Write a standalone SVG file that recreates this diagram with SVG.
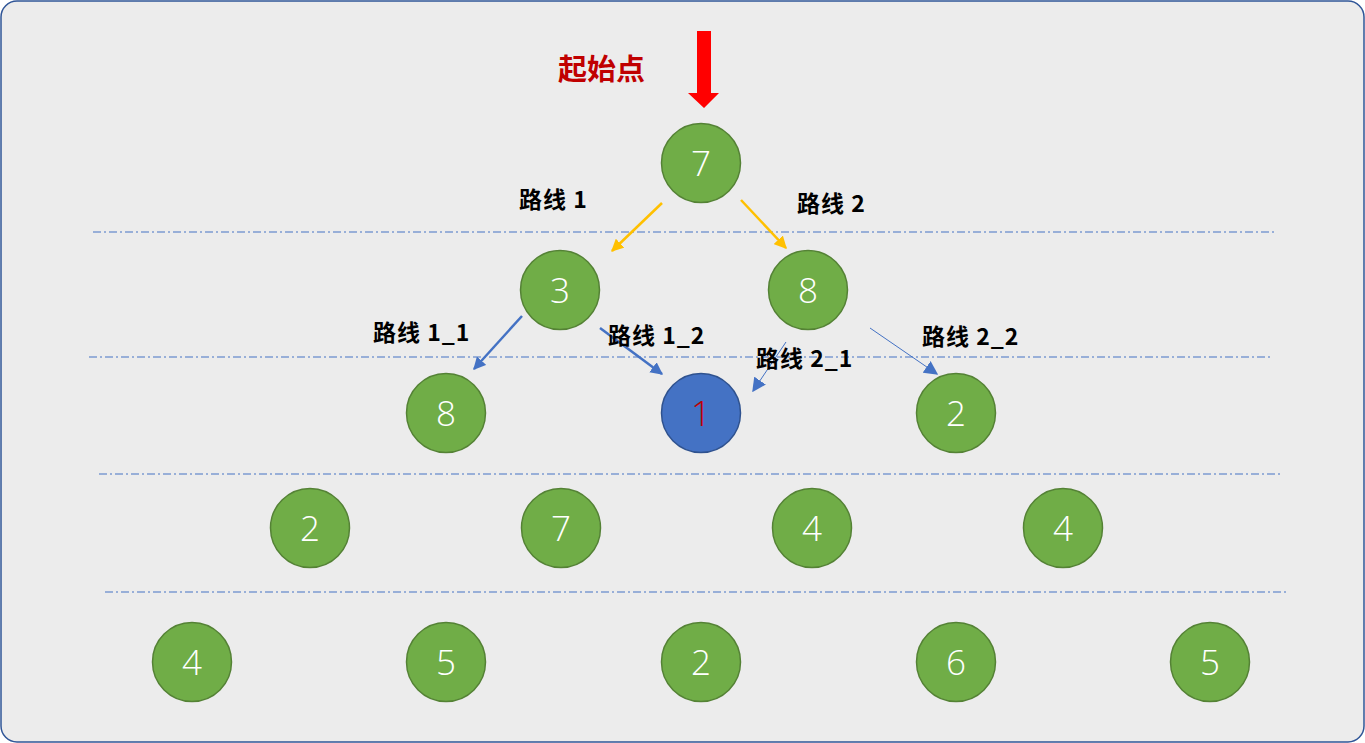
<svg xmlns="http://www.w3.org/2000/svg" width="1365" height="743" viewBox="0 0 1365 743">
<style>
.node circle{fill:#70ad47;stroke:#548235;stroke-width:1.5}
.node text{fill:#ffffff;font-family:"Segoe UI","Open Sans","Noto Sans",sans-serif;font-weight:300;font-size:35px;text-anchor:middle}
.node.blue circle{fill:#4472c4;stroke:#2f528f}
.node.blue text{fill:#c00000}
.sep{stroke:#4472c4;stroke-width:1.2;stroke-dasharray:8 3 2 3;fill:none}
.lbl{font-family:"Noto Sans CJK SC","Noto Sans",sans-serif;font-weight:bold;font-size:23px;letter-spacing:1px;fill:#000}
.y{stroke:#ffc000;stroke-width:2.5;fill:none}
.b{stroke:#4472c4;stroke-width:2.5;fill:none}
.bt{stroke:#4472c4;stroke-width:1;fill:none}
</style>
<defs>
<marker id="ay" viewBox="0 0 10 10" refX="9" refY="5" markerWidth="5" markerHeight="5" markerUnits="strokeWidth" orient="auto"><path d="M0,0 L10,5 L0,10 z" fill="#ffc000"/></marker>
<marker id="ab" viewBox="0 0 10 10" refX="9" refY="5" markerWidth="5" markerHeight="5" markerUnits="strokeWidth" orient="auto"><path d="M0,0 L10,5 L0,10 z" fill="#4472c4"/></marker>
<marker id="abt" viewBox="0 0 10 10" refX="9" refY="5" markerWidth="14" markerHeight="14" markerUnits="strokeWidth" orient="auto"><path d="M0,0 L10,5 L0,10 z" fill="#4472c4"/></marker>
</defs>
<rect x="1" y="1" width="1363" height="741" rx="16" ry="16" fill="#ececec" stroke="#2f5597" stroke-width="1.5"/>
<g id="separators">
<line class="sep" x1="93" y1="232" x2="1277" y2="232"/>
<line class="sep" x1="89" y1="357" x2="1272" y2="357"/>
<line class="sep" x1="99" y1="474" x2="1282" y2="474"/>
<line class="sep" x1="105" y1="592" x2="1288" y2="592"/>
</g>
<g id="start">
<path d="M697,31 L711,31 L711,93 L719,93 L704,108 L688,93 L697,93 z" fill="#ff0000"/>
<text x="558" y="80" font-family="Noto Sans CJK SC,sans-serif" font-weight="bold" font-size="29" fill="#c00000">起始点</text>
</g>
<g id="connectors">
<line class="y" x1="662" y1="203" x2="612" y2="251" marker-end="url(#ay)"/>
<line class="y" x1="741" y1="200" x2="786" y2="248" marker-end="url(#ay)"/>
<line class="b" x1="522" y1="316" x2="474" y2="369" marker-end="url(#ab)"/>
<line class="b" x1="600" y1="328" x2="662" y2="374" marker-end="url(#ab)"/>
<line class="bt" x1="786" y1="342" x2="753" y2="391" marker-end="url(#abt)"/>
<line class="bt" x1="870" y1="328" x2="937" y2="374" marker-end="url(#abt)"/>
</g>
<g id="labels">
<text class="lbl" x="519" y="208">路线 1</text>
<text class="lbl" x="797" y="212">路线 2</text>
<text class="lbl" x="373" y="341">路线 1_1</text>
<text class="lbl" x="608" y="344">路线 1_2</text>
<text class="lbl" x="756" y="367">路线 2_1</text>
<text class="lbl" x="922" y="345">路线 2_2</text>
</g>
<g id="n-root" class="node"><circle cx="701" cy="163" r="39.5"/><text x="701" y="176">7</text></g>
<g id="n-3" class="node"><circle cx="560" cy="290" r="39.5"/><text x="560" y="303">3</text></g>
<g id="n-8a" class="node"><circle cx="808" cy="290" r="39.5"/><text x="808" y="303">8</text></g>
<g id="n-8b" class="node"><circle cx="446" cy="413" r="39.5"/><text x="446" y="426">8</text></g>
<g id="n-1" class="node blue"><circle cx="701" cy="413" r="39.5"/><text x="701" y="426">1</text></g>
<g id="n-2a" class="node"><circle cx="956" cy="413" r="39.5"/><text x="956" y="426">2</text></g>
<g id="n-2b" class="node"><circle cx="310" cy="528" r="39.5"/><text x="310" y="541">2</text></g>
<g id="n-7" class="node"><circle cx="561" cy="528" r="39.5"/><text x="561" y="541">7</text></g>
<g id="n-4a" class="node"><circle cx="812" cy="528" r="39.5"/><text x="812" y="541">4</text></g>
<g id="n-4b" class="node"><circle cx="1063" cy="528" r="39.5"/><text x="1063" y="541">4</text></g>
<g id="n-4c" class="node"><circle cx="192" cy="662" r="39.5"/><text x="192" y="675">4</text></g>
<g id="n-5a" class="node"><circle cx="446" cy="662" r="39.5"/><text x="446" y="675">5</text></g>
<g id="n-2c" class="node"><circle cx="701" cy="662" r="39.5"/><text x="701" y="675">2</text></g>
<g id="n-6" class="node"><circle cx="956" cy="662" r="39.5"/><text x="956" y="675">6</text></g>
<g id="n-5b" class="node"><circle cx="1210" cy="662" r="39.5"/><text x="1210" y="675">5</text></g>
</svg>
